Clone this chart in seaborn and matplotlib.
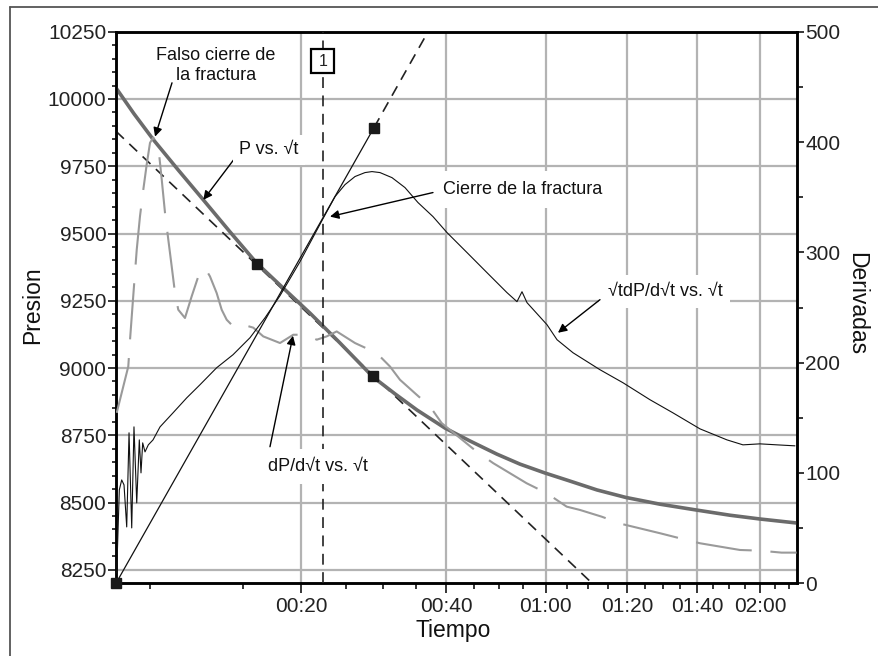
import numpy as np
import pandas as pd
import matplotlib
matplotlib.use("Agg")
import matplotlib.pyplot as plt
import seaborn as sns
from matplotlib.lines import Line2D
from matplotlib.patches import Rectangle

sns.set_theme(style="white")
plt.rcParams['font.family'] = ['Liberation Sans', 'DejaVu Sans']
plt.rcParams['axes.grid'] = False

# ---------------- data ----------------
T0 = 10.0  # min: start of shut-in; x axis = sqrt(t - T0)

# P vs sqrt(t)  (left axis, psi)
p_x = [0.209, 0.496, 0.804, 1.199, 1.603, 2.029, 2.455, 2.879, 3.306, 3.785, 4.311,
       4.663, 5.014, 5.460, 5.859, 6.290, 6.657, 7.056, 7.455, 7.886, 8.349, 8.892,
       9.483, 10.010, 10.488, 11.079]
p_val = [10041, 9945, 9849, 9737, 9625, 9506, 9390, 9297, 9204, 9093, 8967,
         8904, 8844, 8777, 8729, 8680, 8643, 8610, 8580, 8547, 8519, 8494,
         8472, 8453, 8439, 8424]

# sqrt(t) dP/dsqrt(t) vs sqrt(t)  (right axis)
g_x = [0.220, 0.262, 0.300, 0.337, 0.380, 0.417, 0.460, 0.496, 0.540, 0.581, 0.608,
       0.635, 0.672, 0.725, 0.800, 0.912, 1.119, 1.338, 1.550, 1.816, 2.077, 2.348,
       2.588, 2.827, 3.146, 3.513, 3.705, 3.865, 4.024, 4.184, 4.295, 4.423, 4.615,
       4.822, 5.030, 5.269, 5.493, 5.812, 6.131, 6.450, 6.610, 6.690, 6.770, 7.089,
       7.249, 7.504, 7.935, 8.302, 8.733, 9.100, 9.531, 9.962, 10.217, 10.488,
       10.760, 11.047]
g_val = [9.3, 84.7, 93.7, 89.2, 51.1, 136.4, 50.2, 141.8, 72.9, 130.0, 100.1,
         127.3, 119.1, 125.5, 130.0, 141.8, 154.5, 168.1, 180.0, 195.4, 207.2, 222.6,
         240.7, 260.7, 291.5, 330.5, 350.5, 361.4, 368.7, 372.3, 373.2, 372.3, 367.7,
         358.7, 345.1, 332.4, 317.9, 299.8, 281.6, 263.5, 255.3, 264.3, 254.4, 234.4,
         220.8, 209.0, 193.6, 181.8, 166.4, 154.5, 140.0, 130.0, 125.5, 126.4,
         125.5, 124.6]

# dP/dsqrt(t) vs sqrt(t)  (right axis)
d_x = [0.220, 0.405, 0.433, 0.480, 0.540, 0.592, 0.645, 0.699, 0.752, 0.804, 0.884,
       0.939, 0.991, 1.044, 1.098, 1.151, 1.203, 1.310, 1.417, 1.523, 1.630, 1.709,
       1.816, 1.896, 1.976, 2.081, 2.241, 2.401, 2.560, 2.827, 3.039, 3.253, 3.413,
       3.572, 3.732, 4.024, 4.370, 4.583, 4.742, 5.009, 5.221, 5.408, 5.966, 6.231,
       6.764, 7.084, 7.403, 7.615, 7.962, 8.281, 8.892, 9.211, 9.531, 10.170,
       10.488, 10.835, 11.074]
d_val = [154.5, 196.5, 220.8, 257.1, 302.4, 332.7, 356.9, 379.6, 399.3, 404.1, 396.2,
         366.0, 336.0, 311.5, 287.3, 263.1, 248.0, 240.5, 260.1, 278.2, 285.8, 278.2,
         263.1, 248.0, 238.9, 232.8, 234.4, 231.7, 223.8, 217.8, 225.3, 225.3, 220.8,
         223.8, 228.3, 217.8, 208.7, 196.5, 184.5, 170.9, 160.3, 145.2, 119.4, 108.9,
         90.7, 81.7, 69.5, 66.5, 60.4, 53.8, 45.4, 40.8, 36.3, 30.2,
         29.6, 27.8, 27.8]

# straight-line fits
tan_p_x = [0.209, 7.81]
tan_p_val = [9880, 8200]
tan_g_x = [0.209, 4.327]
tan_g_val = [0, 413]
tan_g_ext_x = [4.327, 5.19]
tan_g_ext_val = [413, 500]
marks_p_x = [2.46, 4.311]
marks_p_val = [9385, 8972]
marks_g_x = [0.209, 4.327]
marks_g_val = [0, 413]
closure_x = 3.51

time_labels = ["00:20", "00:40", "01:00", "01:20", "01:40", "02:00"]
time_minutes = [20, 40, 60, 80, 100, 120]
minor_minutes = [10.56, 15, 25, 30, 35, 45, 50, 55, 65, 70, 75, 85, 90, 95,
                 105, 110, 115, 125, 130]
p_ticks = [8250, 8500, 8750, 9000, 9250, 9500, 9750, 10000, 10250]
d_ticks = [0, 100, 200, 300, 400, 500]

# ---------------- figure ----------------
W, H = 879, 656
fig = plt.figure(figsize=(W / 100, H / 100), dpi=100)
L, R, T, B = 116, 797, 31.7, 583.3
ax = fig.add_axes([L / W, 1 - B / H, (R - L) / W, (B - T) / H])
ax.set_xlim(0.209, 11.08)
ax.set_ylim(8200, 10250)
ax2 = ax.twinx()
ax2.set_ylim(0, 500)

grid_c = '#b3b3b3'
xt = [np.sqrt(m - T0) for m in time_minutes]
ax.set_xticks(xt)
ax.set_xticklabels(time_labels)
ax.set_xticks([np.sqrt(m - T0) for m in minor_minutes], minor=True)
ax.set_yticks(p_ticks)
ax.set_yticklabels([str(v) for v in p_ticks])
ax.set_yticks(np.arange(8200, 10251, 50), minor=True)
ax2.set_yticks(d_ticks)
ax2.set_yticks(np.arange(0, 501, 50), minor=True)

for a in (ax, ax2):
    for sp in a.spines.values():
        sp.set_color('black')
        sp.set_linewidth(1.8)

tick_c = '#222222'
tfs = 15
ax.tick_params(axis='y', which='major', direction='out', length=6, width=1.3,
               labelsize=tfs, labelcolor=tick_c, pad=1, left=True)
ax.tick_params(axis='y', which='minor', direction='out', length=3, width=1.3, left=True)
ax.tick_params(axis='x', which='major', direction='out', length=7, width=1.3,
               labelsize=tfs, labelcolor=tick_c, pad=3, bottom=True)
ax.tick_params(axis='x', which='minor', direction='out', length=4, width=1.3, bottom=True)
ax2.tick_params(axis='y', which='major', direction='out', length=5, width=1.3,
                labelsize=tfs, labelcolor=tick_c, pad=1, right=True)
ax2.tick_params(axis='y', which='minor', direction='out', length=4, width=1.3, right=True)

# grid at the major tick positions only
for v in xt:
    ax.axvline(v, color=grid_c, lw=1.6, zorder=0.5)
for v in p_ticks[:-1]:
    ax.axhline(v, color=grid_c, lw=1.6, zorder=0.5)

# ---------------- curves ----------------
sns.lineplot(x=p_x, y=p_val, ax=ax, color='#6b6b6b', lw=2.6, sort=False,
             estimator=None, legend=False, zorder=4)
ln = ax.plot(tan_p_x, tan_p_val, color='#222222', lw=1.2, zorder=3)[0]
ln.set_dashes((6.5, 4.5))
ax.plot(marks_p_x, marks_p_val, ls='none', marker='s', ms=7.5, color='#1a1a1a', zorder=6)

sns.lineplot(x=d_x, y=d_val, ax=ax2, color='#9a9a9a', lw=1.5, sort=False,
             estimator=None, legend=False, zorder=3)
ax2.lines[-1].set_dashes((27, 9))
sns.lineplot(x=g_x, y=g_val, ax=ax2, color='#111111', lw=0.8, sort=False,
             estimator=None, legend=False, zorder=4)
ax2.plot(tan_g_x, tan_g_val, color='#111111', lw=0.9, zorder=4)
le = ax2.plot(tan_g_ext_x, tan_g_ext_val, color='#222222', lw=1.2, zorder=4)[0]
le.set_dashes((6.5, 4.5))
ax2.plot(marks_g_x, marks_g_val, ls='none', marker='s', ms=7.5, color='#1a1a1a',
         zorder=6, clip_on=False)
lv = ax2.axvline(closure_x, color='#222222', lw=1.2, zorder=4)
lv.set_dashes((6.5, 4.5))
ax2.add_patch(Rectangle((closure_x - 0.1835, 0.925), 0.367, 0.0435,
                        transform=ax2.get_xaxis_transform(), fc='white',
                        ec='black', lw=1.6, zorder=7))
ax2.text(closure_x, 0.9468, "1", transform=ax2.get_xaxis_transform(),
         ha='center', va='center', fontsize=11.5, color='#222222', zorder=8)

# ---------------- labels ----------------
ax.set_ylabel("Presion", fontsize=16.5, color='#111111')
ax.yaxis.set_label_coords(-0.122, 0.505)
ax.yaxis.label.set_va('center')
ax.set_xlabel("Tiempo", fontsize=16.5, color='#111111')
ax.xaxis.set_label_coords(0.4956, -0.085)
ax.xaxis.label.set_va('center')
ax2.set_ylabel("Derivadas", fontsize=16.5, color='#111111', rotation=270)
ax2.yaxis.set_label_coords(1.088, 0.507)
ax2.yaxis.label.set_va('center')

arrow = dict(arrowstyle='-|>', color='black', lw=1.0, mutation_scale=13,
             shrinkA=0, shrinkB=0)
fs = 13

def note(x, y, s, pad, a=ax2, ha='center'):
    a.text(x, y, s, ha=ha, va='center', fontsize=fs, color='#111111', zorder=20,
           linespacing=1.2,
           bbox=dict(boxstyle=f'square,pad={pad}', fc='white', ec='none'))

# Falso cierre de la fractura (coords on pressure axis)
ax.annotate('', xy=(0.832, 9860), xytext=(1.103, 10060), arrowprops=arrow, zorder=20)
ax.text(1.805, 10124, "Falso cierre de\nla fractura", ha='center', va='center',
        fontsize=fs, color='#111111', zorder=20, linespacing=1.25)
# P vs sqrt t
ax.annotate('', xy=(1.603, 9625), xytext=(2.11, 9781), arrowprops=arrow, zorder=20)
note(2.651, 9811, "P vs. \u221at", 0.35, a=ax)
# Cierre de la fractura
ax2.annotate('', xy=(3.625, 332.4), xytext=(5.269, 354.2), arrowprops=arrow, zorder=21)
note(6.706, 356.9, "Cierre de la fractura", 0.55)
# sqrt t dP/dsqrt t
ax2.annotate('', xy=(7.264, 227.1), xytext=(7.935, 257.1), arrowprops=arrow, zorder=21)
note(8.972, 264.3, "\u221atdP/d\u221at vs. \u221at", 0.45)
# dP/dsqrt t
ax2.annotate('', xy=(3.034, 224.4), xytext=(2.667, 123.8), arrowprops=arrow, zorder=21)
note(3.434, 105.6, "dP/d\u221at vs. \u221at", 0.5)

# outer frame (top and left edges visible)
fig.add_artist(Line2D([10 / W, 10 / W], [0, 1 - 7.3 / H], transform=fig.transFigure,
                      color='#555555', lw=1.3))
fig.add_artist(Line2D([10 / W, 1], [1 - 7.3 / H, 1 - 7.3 / H], transform=fig.transFigure,
                      color='#555555', lw=1.3))

fig.savefig("out.png", dpi=100)
